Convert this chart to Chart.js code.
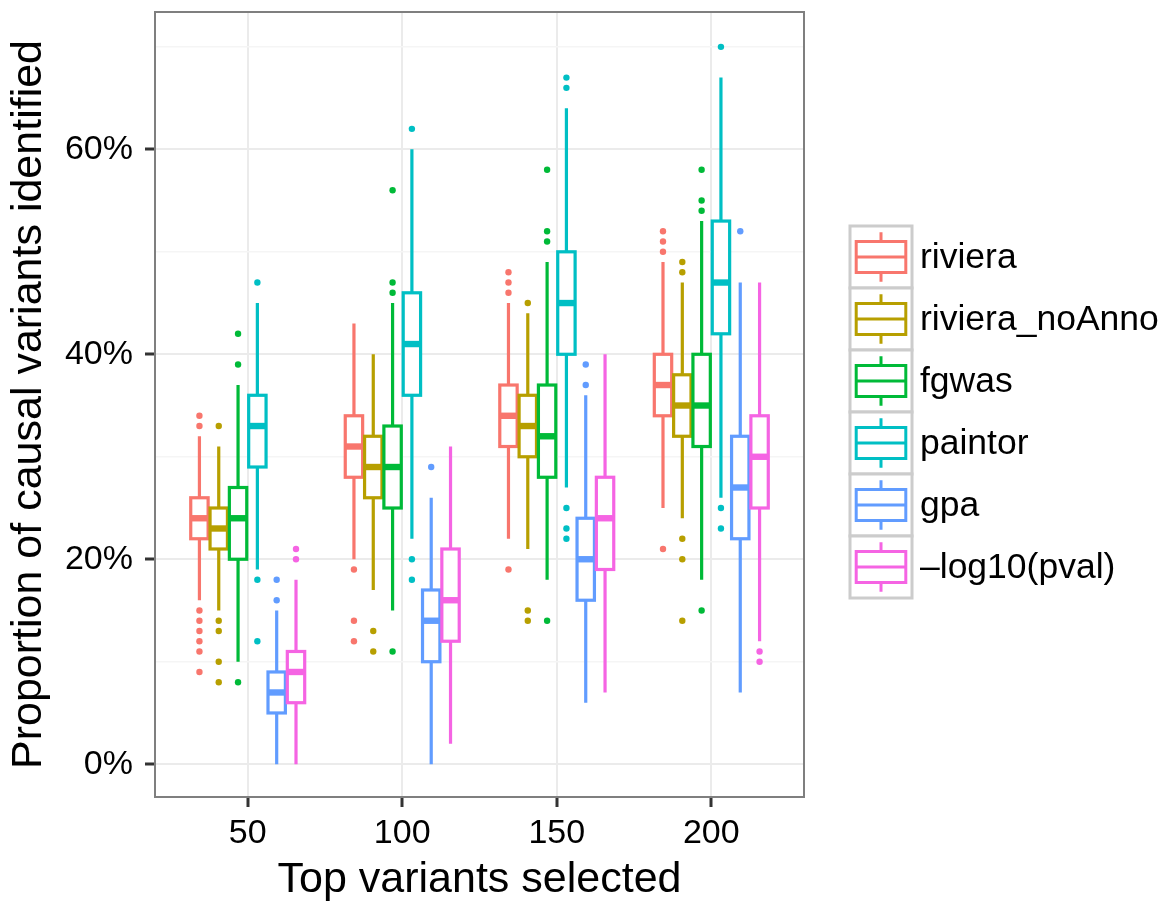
<!DOCTYPE html>
<html>
<head>
<meta charset="utf-8">
<title>Causal variants identified</title>
<script src="https://cdn.jsdelivr.net/npm/chart.js@4.4.1/dist/chart.umd.min.js"></script>
<style>
  html, body { margin: 0; padding: 0; background: #fff; }
  #boxes { display: block; }
</style>
</head>
<body>
<canvas id="boxes" width="1169" height="906"></canvas>
<script>
const topVariants = [50, 100, 150, 200]
const methods = ['riviera', 'riviera_noAnno', 'fgwas', 'paintor', 'gpa', '–log10(pval)']
const colors = ['#F8766D', '#B79F00', '#00BA38', '#00BFC4', '#619CFF', '#F564E3']
const yTicks = [0, 20, 40, 60]
const yMinor = [10, 30, 50, 70]

// [lower whisker, q1, median, q3, upper whisker] for each topVariants value
const rivieraStats = [[16, 22, 24, 26, 32], [20, 28, 31, 34, 43], [22, 31, 34, 37, 45], [25, 34, 37, 40, 49]]
const noAnnoStats = [[15, 21, 23, 25, 31], [17, 26, 29, 32, 40], [21, 30, 33, 36, 44], [24, 32, 35, 38, 47]]
const fgwasStats = [[10, 20, 24, 27, 37], [15, 25, 29, 33, 45], [18, 28, 32, 37, 49], [18, 31, 35, 40, 53]]
const paintorStats = [[19, 29, 33, 36, 45], [22, 36, 41, 46, 60], [27, 40, 45, 50, 64], [26, 42, 47, 53, 67]]
const gpaStats = [[0, 5, 7, 9, 15], [0, 10, 14, 17, 26], [6, 16, 20, 24, 36], [7, 22, 27, 32, 47]]
const pvalStats = [[0, 6, 9, 11, 18], [2, 12, 16, 21, 31], [7, 19, 24, 28, 40], [12, 25, 30, 34, 47]]

// points beyond the whiskers
const rivieraOutliers = [[34, 33, 15, 14, 13, 12, 11, 9], [19, 14, 12], [48, 47, 46, 19], [52, 51, 50, 21]]
const noAnnoOutliers = [[33, 14, 13, 10, 8], [13, 11], [45, 15, 14], [49, 48, 22, 20, 14]]
const fgwasOutliers = [[42, 39, 8], [56, 47, 46, 11], [58, 52, 51, 14], [58, 55, 54, 15]]
const paintorOutliers = [[47, 18, 12], [62, 20, 18], [67, 66, 25, 23, 22], [70, 25, 23]]
const gpaOutliers = [[18, 16], [29], [39, 37], [52]]
const pvalOutliers = [[21, 20], [], [], [11, 10]]

const allStats = [rivieraStats, noAnnoStats, fgwasStats, paintorStats, gpaStats, pvalStats]
const allOutliers = [rivieraOutliers, noAnnoOutliers, fgwasOutliers, paintorOutliers, gpaOutliers, pvalOutliers]

const dodge = 0.125      // spacing between methods within a group (x units)
const boxWidth = 0.1125
const fontFamily = '"Liberation Sans", Arial, Helvetica, sans-serif'

const xFor = (m, c) => c + 1 + (m - 2.5) * dodge

Chart.defaults.font.family = fontFamily
Chart.defaults.color = '#000'

// whiskers, boxes and medians, drawn under the outlier points
const boxplots = {
  id: 'boxplots',
  beforeDatasetsDraw(chart) {
    const { ctx, chartArea, scales: { x, y } } = chart
    ctx.save()
    ctx.beginPath()
    ctx.rect(chartArea.left, chartArea.top, chartArea.width, chartArea.height)
    ctx.clip()
    allStats.forEach((stats, m) => {
      stats.forEach((s, c) => {
        const cx = xFor(m, c)
        const left = x.getPixelForValue(cx - boxWidth / 2)
        const right = x.getPixelForValue(cx + boxWidth / 2)
        const mid = x.getPixelForValue(cx)
        const [lo, q1, med, q3, hi] = s.map(v => y.getPixelForValue(v))
        ctx.strokeStyle = colors[m]
        ctx.lineWidth = 3.2
        ctx.beginPath()
        ctx.moveTo(mid, lo); ctx.lineTo(mid, q1)
        ctx.moveTo(mid, q3); ctx.lineTo(mid, hi)
        ctx.stroke()
        ctx.fillStyle = '#fff'
        ctx.fillRect(left, q3, right - left, q1 - q3)
        ctx.strokeRect(left, q3, right - left, q1 - q3)
        ctx.lineWidth = 6.4
        ctx.beginPath()
        ctx.moveTo(left, med); ctx.lineTo(right, med)
        ctx.stroke()
      })
    })
    ctx.restore()
  },
  afterDatasetsDraw(chart) {
    const { ctx, chartArea } = chart
    ctx.save()
    ctx.strokeStyle = '#7F7F7F'
    ctx.lineWidth = 2
    ctx.strokeRect(chartArea.left, chartArea.top, chartArea.width, chartArea.height)
    ctx.restore()
  }
}

// ggplot style legend with a small boxplot glyph per key
const boxLegend = {
  id: 'boxLegend',
  afterDraw(chart) {
    const { ctx } = chart
    const keyLeft = 850, keyTop = 226, key = 62
    ctx.save()
    methods.forEach((name, m) => {
      const top = keyTop + m * key
      ctx.fillStyle = '#fff'
      ctx.fillRect(keyLeft, top, key, key)
      ctx.strokeStyle = '#CCCCCC'
      ctx.lineWidth = 3
      ctx.strokeRect(keyLeft, top, key, key)

      const mid = keyLeft + key / 2
      ctx.strokeStyle = colors[m]
      ctx.lineWidth = 3
      ctx.beginPath()
      ctx.moveTo(mid, top + key * 0.1); ctx.lineTo(mid, top + key * 0.25)
      ctx.moveTo(mid, top + key * 0.75); ctx.lineTo(mid, top + key * 0.9)
      ctx.stroke()
      ctx.strokeRect(keyLeft + key * 0.1, top + key * 0.25, key * 0.8, key * 0.5)
      ctx.beginPath()
      ctx.moveTo(keyLeft + key * 0.1, top + key / 2); ctx.lineTo(keyLeft + key * 0.9, top + key / 2)
      ctx.stroke()

      ctx.fillStyle = '#000'
      ctx.font = '35.5px ' + fontFamily
      ctx.textBaseline = 'middle'
      ctx.textAlign = 'left'
      ctx.fillText(name, keyLeft + key + 8, top + key / 2 + 1)
    })
    ctx.restore()
  }
}

const datasets = methods.map((name, m) => ({
  label: name,
  data: allOutliers[m].flatMap((vals, c) => vals.map(v => ({ x: xFor(m, c), y: v }))),
  backgroundColor: colors[m],
  borderWidth: 0,
  pointRadius: 3.2,
}))

new Chart(document.getElementById('boxes'), {
  type: 'scatter',
  data: { datasets },
  plugins: [boxplots, boxLegend],
  options: {
    responsive: false,
    animation: false,
    devicePixelRatio: 1,
    layout: { padding: { top: 12, right: 365, left: 0, bottom: 0 } },
    plugins: {
      legend: { display: false },
      tooltip: { enabled: false },
    },
    scales: {
      x: {
        type: 'linear',
        min: 0.4,
        max: 4.6,
        afterBuildTicks: scale => { scale.ticks = topVariants.map((v, i) => ({ value: i + 1 })) },
        afterFit: scale => {
          scale.height = 109
          scale.paddingLeft = 0
          scale.paddingRight = 0
        },
        ticks: {
          autoSkip: false,
          maxRotation: 0,
          padding: 6,
          font: { size: 34 },
          callback: v => topVariants[v - 1],
        },
        grid: { color: '#EBEBEB', lineWidth: 2, tickLength: 10, tickColor: '#333', tickWidth: 3 },
        border: { display: false },
        title: { display: true, text: 'Top variants selected', font: { size: 43 }, padding: { top: 0, bottom: 0 } },
      },
      y: {
        min: -3.2,
        max: 73.4,
        afterBuildTicks: scale => {
          scale.ticks = [...yTicks, ...yMinor].sort((a, b) => a - b).map(v => ({ value: v }))
        },
        afterFit: scale => {
          scale.width = 155
          scale.paddingTop = 0
          scale.paddingBottom = 0
        },
        ticks: {
          padding: 12,
          font: { size: 34 },
          callback: v => yTicks.includes(v) ? v + '%' : '',
        },
        grid: {
          color: c => yTicks.includes(c.tick.value) ? '#EBEBEB' : '#F5F5F5',
          lineWidth: c => yTicks.includes(c.tick.value) ? 2 : 1.5,
          tickLength: 10,
          tickColor: c => yTicks.includes(c.tick.value) ? '#333' : 'rgba(0,0,0,0)',
          tickWidth: 3,
        },
        border: { display: false },
        title: { display: true, text: 'Proportion of causal variants identified', font: { size: 43 }, padding: { top: 3, bottom: 0 } },
      },
    },
  },
})
</script>
</body>
</html>
